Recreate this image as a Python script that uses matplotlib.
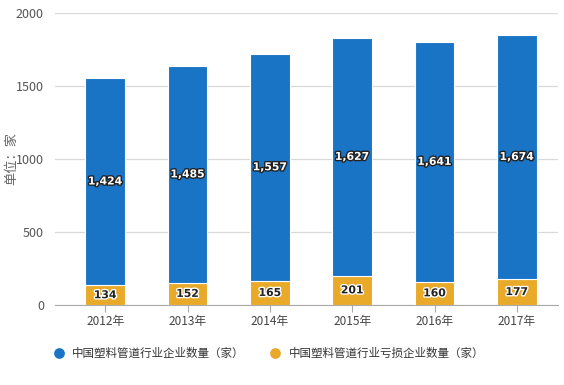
import matplotlib
matplotlib.use("Agg")
import matplotlib.pyplot as plt
import matplotlib.patheffects as pe
import numpy as np

plt.rcParams['font.family'] = ['Noto Sans CJK SC', 'DejaVu Sans']

years = ["2012年", "2013年", "2014年", "2015年", "2016年", "2017年"]
total = [1424, 1485, 1557, 1627, 1641, 1674]
loss = [134, 152, 165, 201, 160, 177]
names = ["中国塑料管道行业企业数量（家）", "中国塑料管道行业亏损企业数量（家）"]

blue = "#1a74c6"
orange = "#e9a929"

fig = plt.figure(figsize=(5.64, 3.85), dpi=100)
ax = fig.add_axes([55 / 564, 80 / 385, 503 / 564, 292 / 385])

x = np.arange(len(years))
w = 0.48
ax.bar(x, loss, w, color=orange, edgecolor="white", linewidth=0.8, zorder=3)
ax.bar(x, total, w, bottom=loss, color=blue, edgecolor="white", linewidth=0.8, zorder=3)

# labels in the middle of each part
for i in range(len(years)):
    ax.text(x[i], loss[i] / 2, str(loss[i]), ha="center", va="center",
            fontsize=7.8, fontweight="bold", color="#222222", zorder=5,
            family="DejaVu Sans",
            path_effects=[pe.withStroke(linewidth=2, foreground="white")])
    ax.text(x[i], loss[i] + total[i] / 2, f"{total[i]:,}", ha="center", va="center",
            fontsize=7.8, fontweight="bold", color="white", zorder=5,
            family="DejaVu Sans",
            path_effects=[pe.withStroke(linewidth=2, foreground="#222222")])

ax.set_xlim(-0.61, 5.5)
ax.set_ylim(0, 2000)
ax.set_yticks([0, 500, 1000, 1500, 2000])
ax.set_xticks(x)
ax.set_xticklabels(years)
ax.grid(axis="y", color="#d9d9d9", linewidth=0.9, zorder=0)
for s in ["top", "right", "left"]:
    ax.spines[s].set_visible(False)
ax.spines["bottom"].set_color("#aaaaaa")
ax.tick_params(axis="y", length=0, labelsize=9, labelcolor="#555555", pad=8)
ax.tick_params(axis="x", length=5, color="#aaaaaa", labelsize=8.5, labelcolor="#444444", pad=2)
ax.set_ylabel("单位：家", fontsize=9.5, color="#666666")
ax.yaxis.set_label_coords(-37 / 503, 0.5)

# legend
h1 = ax.scatter([], [], s=45, color=blue)
h2 = ax.scatter([], [], s=45, color=orange)
fig.legend([h1, h2], names, loc="center left", bbox_to_anchor=(53 / 564, 1 - 353 / 385),
           ncol=2, frameon=False, fontsize=8.3, handlelength=1.0, handletextpad=0.63,
           columnspacing=2.2, borderpad=0, borderaxespad=0, labelcolor="#333333")

fig.savefig("out.png", dpi=100)
